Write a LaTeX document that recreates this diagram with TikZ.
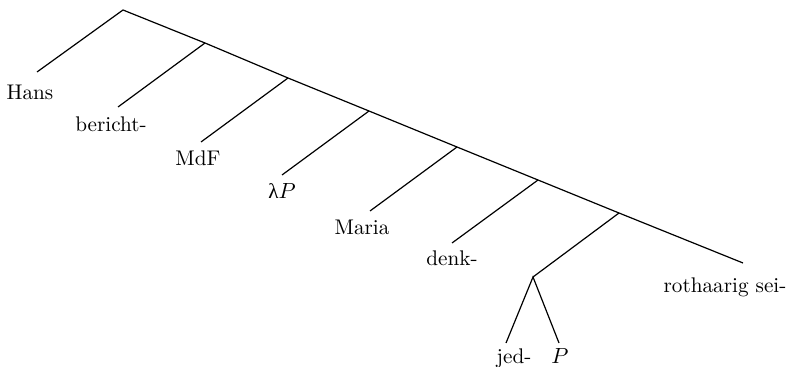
\documentclass[tikz,border=0pt]{standalone}
\usepackage{fontspec}
\newfontfamily\greekfont{Liberation Serif}
\begin{document}
\begin{tikzpicture}[x=0.5pt,y=-0.5pt,
  edge/.style={line width=0.6pt},
  lbl/.style={anchor=base, inner sep=0pt, font=\fontsize{10.6}{12}\selectfont}]
\useasboundingbox (0,0) rectangle (790,367);
% spine
\coordinate (r) at (123,10);
\coordinate (n1) at (205,43);
\coordinate (n2) at (288,78);
\coordinate (n3) at (369,111);
\coordinate (n4) at (457,147);
\coordinate (n5) at (538,180);
\coordinate (n6) at (619,213);
\coordinate (j) at (533,277);
% edge ends
\coordinate (e-hans) at (37,72);
\coordinate (e-ber) at (118,107);
\coordinate (e-mdf) at (201,142);
\coordinate (e-lam) at (282,175);
\coordinate (e-mar) at (370,211);
\coordinate (e-den) at (452,243);
\coordinate (e-rot) at (743,263);
\coordinate (e-jed) at (506,343);
\coordinate (e-p) at (559,343);
% labels
\node[lbl] (hans) at (30,100) {Hans};
\node[lbl] (ber) at (111,132) {bericht-};
\node[lbl] (mdf) at (198,166) {MdF};
\node[lbl] (lam) at (282,199) {{\greekfont λ}$P$};
\node[lbl] (mar) at (362,235) {Maria};
\node[lbl] (den) at (452,266) {denk-};
\node[lbl] (rot) at (725,293) {rothaarig sei-};
\node[lbl] (jed) at (514,364) {jed-};
\node[lbl] (p) at (560,364) {$P$};
% edges
\draw[edge] (e-hans) -- (r) -- (n1) -- (n2) -- (n3) -- (n4) -- (n5) -- (n6) -- (e-rot);
\draw[edge] (n1) -- (e-ber);
\draw[edge] (n2) -- (e-mdf);
\draw[edge] (n3) -- (e-lam);
\draw[edge] (n4) -- (e-mar);
\draw[edge] (n5) -- (e-den);
\draw[edge] (n6) -- (j);
\draw[edge] (e-jed) -- (j) -- (e-p);
\end{tikzpicture}
\end{document}
